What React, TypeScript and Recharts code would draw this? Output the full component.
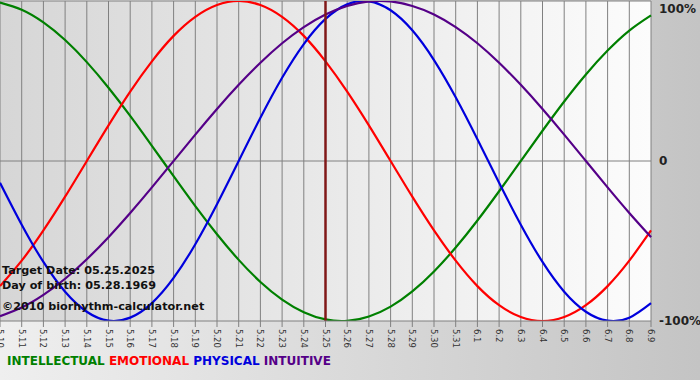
import React from "react";
import { LineChart, Line, XAxis, YAxis, CartesianGrid, ReferenceLine } from "recharts";

const dates = [
  "5.10", "5.11", "5.12", "5.13", "5.14", "5.15", "5.16", "5.17", "5.18", "5.19", "5.20",
  "5.21", "5.22", "5.23", "5.24", "5.25", "5.26", "5.27", "5.28", "5.29", "5.30", "5.31",
  "6.1", "6.2", "6.3", "6.4", "6.5", "6.6", "6.7", "6.8", "6.9",
];

const intellectual = [99.0, 94.5, 86.6, 75.6, 61.8, 45.8, 28.2, 9.5, -9.5, -28.2, -45.8, -61.8, -75.6, -86.6, -94.5, -99.0, -99.9, -97.2, -91.0, -81.5, -69.0, -54.1, -37.2, -18.9, 0, 18.9, 37.2, 54.1, 69.0, 81.5, 91.0];
const emotional = [-78.2, -62.3, -43.4, -22.3, 0, 22.3, 43.4, 62.3, 78.2, 90.1, 97.5, 100, 97.5, 90.1, 78.2, 62.3, 43.4, 22.3, 0, -22.3, -43.4, -62.3, -78.2, -90.1, -97.5, -100, -97.5, -90.1, -78.2, -62.3, -43.4];
const physical = [-13.6, -39.8, -63.1, -81.7, -94.2, -99.8, -97.9, -88.8, -73.1, -52.0, -27.0, 0, 27.0, 52.0, 73.1, 88.8, 97.9, 99.8, 94.2, 81.7, 63.1, 39.8, 13.6, -13.6, -39.8, -63.1, -81.7, -94.2, -99.8, -97.9, -88.8];
const intuitive = [-97.0, -91.6, -83.7, -73.6, -61.4, -47.6, -32.5, -16.5, 0, 16.5, 32.5, 47.6, 61.4, 73.6, 83.7, 91.6, 96.9, 99.7, 99.7, 96.9, 91.6, 83.7, 73.6, 61.4, 47.6, 32.5, 16.5, 0, -16.5, -32.5, -47.6];

const yTicks = [-100, 0, 100];
const yLabels: Record<string, string> = { "-100": "-100%", "0": "0", "100": "100%" };
const targetDate = "5.25";

const legendItems = [
  { label: "INTELLECTUAL", color: "#008000" },
  { label: "EMOTIONAL", color: "#ff0000" },
  { label: "PHYSICAL", color: "#0000dd" },
  { label: "INTUITIVE", color: "#550088" },
];

const infoLines = [
  { text: "Target Date: 05.25.2025", top: 264 },
  { text: "Day of birth: 05.28.1969", top: 279 },
  { text: "\u00a92010 biorhythm-calculator.net", top: 300 },
];

const data = dates.map((d, i) => ({
  date: d,
  intellectual: intellectual[i],
  emotional: emotional[i],
  physical: physical[i],
  intuitive: intuitive[i],
}));

const XTick = (props: any) => {
  const { x, y, payload } = props;
  return (
    <g transform={`translate(${x},${y})`}>
      <text
        transform="rotate(90)"
        x={0}
        y={0}
        dy="0.35em"
        textAnchor="start"
        fontFamily="DejaVu Sans"
        fontSize={8.5}
        fill="#333"
      >
        {payload.value}
      </text>
    </g>
  );
};

const YTick = (props: any) => {
  const { y, payload } = props;
  const yy = Math.max(7, Math.min(y, 322));
  return (
    <text
      x={659}
      y={yy}
      dy="0.36em"
      textAnchor="start"
      fontFamily="DejaVu Sans"
      fontWeight="bold"
      fontSize={12}
      fill="#222"
    >
      {yLabels[String(payload.value)]}
    </text>
  );
};

export default function App() {
  return (
    <div
      style={{
        position: "absolute",
        left: 0,
        top: 0,
        width: 700,
        height: 380,
        background: "linear-gradient(to right, #efefef, #c4c4c4)",
        overflow: "hidden",
      }}
    >
      <LineChart width={700} height={380} data={data} margin={{ top: 1, right: 0, bottom: 0, left: 0 }}>
        <defs>
          <linearGradient id="plotBg" x1="0" y1="0" x2="1" y2="0">
            <stop offset="0%" stopColor="#d6d6d6" />
            <stop offset="100%" stopColor="#fcfcfc" />
          </linearGradient>
        </defs>
        <CartesianGrid horizontal={false} stroke="#808080" fill="url(#plotBg)" fillOpacity={1} />
        <XAxis
          dataKey="date"
          scale="point"
          interval={0}
          height={59}
          tick={<XTick />}
          tickSize={6}
          tickMargin={2}
          axisLine={{ stroke: "#808080" }}
          tickLine={{ stroke: "#808080" }}
        />
        <YAxis
          orientation="right"
          width={49}
          domain={[-100, 100]}
          ticks={yTicks}
          axisLine={false}
          tickLine={false}
          tick={<YTick />}
          allowDataOverflow
        />
        <ReferenceLine y={100} stroke="#808080" />
        <ReferenceLine y={0} stroke="#808080" />
        <Line type="natural" dataKey="intellectual" stroke="#008000" strokeWidth={2.2} dot={false} isAnimationActive={false} />
        <Line type="natural" dataKey="emotional" stroke="#ff0000" strokeWidth={2.2} dot={false} isAnimationActive={false} />
        <Line type="natural" dataKey="physical" stroke="#0000dd" strokeWidth={2.2} dot={false} isAnimationActive={false} />
        <Line type="natural" dataKey="intuitive" stroke="#550088" strokeWidth={2.2} dot={false} isAnimationActive={false} />
        <ReferenceLine x={targetDate} stroke="#801818" strokeWidth={2.5} />
      </LineChart>
      {infoLines.map((l) => (
        <div
          key={l.text}
          style={{
            position: "absolute",
            left: 2,
            top: l.top,
            fontFamily: "DejaVu Sans",
            fontWeight: "bold",
            fontSize: 11.2,
            color: "#111",
            whiteSpace: "nowrap",
            lineHeight: "14px",
          }}
        >
          {l.text}
        </div>
      ))}
      <div
        style={{
          position: "absolute",
          left: 7,
          top: 354,
          fontFamily: "DejaVu Sans",
          fontWeight: "bold",
          fontSize: 12,
          whiteSpace: "nowrap",
          lineHeight: "14px",
        }}
      >
        {legendItems.map((it, i) => (
          <span key={it.label} style={{ color: it.color }}>
            {it.label}
            {i < legendItems.length - 1 ? " " : ""}
          </span>
        ))}
      </div>
    </div>
  );
}
